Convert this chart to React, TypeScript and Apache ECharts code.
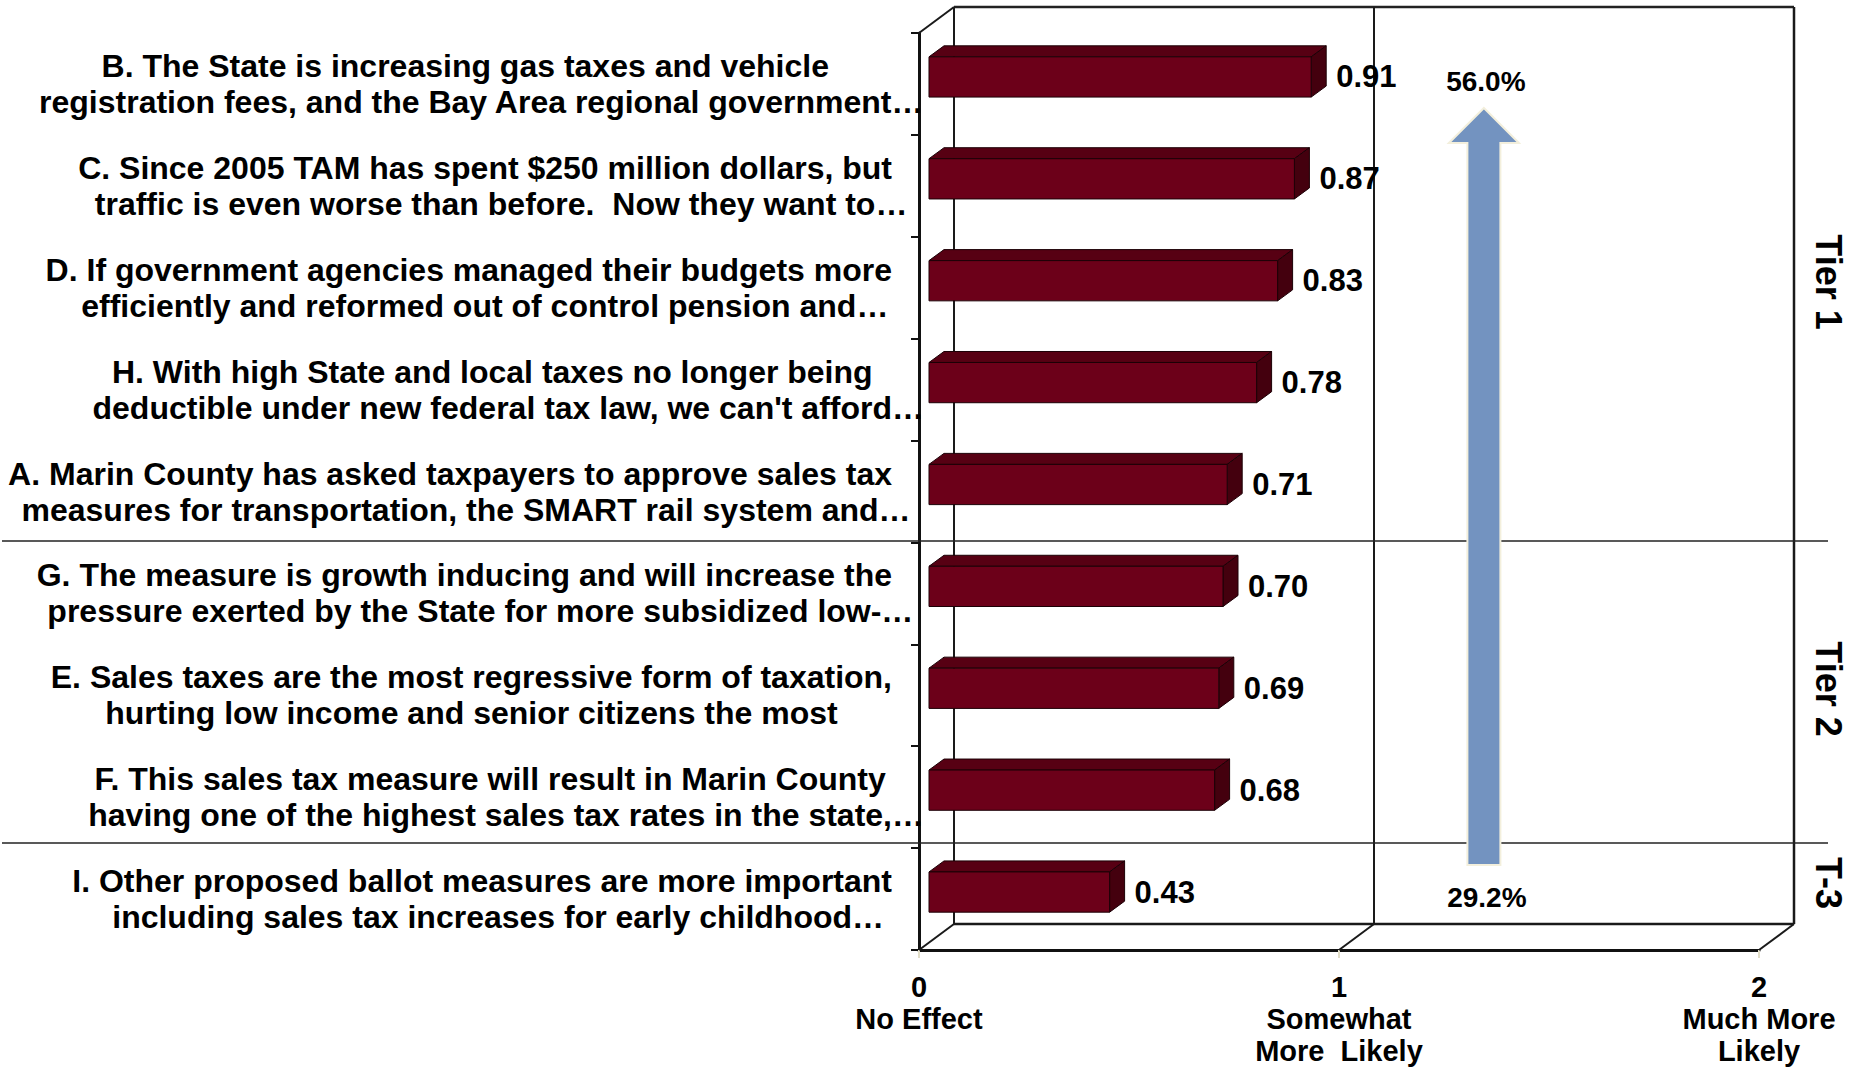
import React, { useEffect, useRef } from 'react';
import * as echarts from 'echarts';

// ---------- data ----------
const categories: string[] = [
  'B. The State is increasing gas taxes and vehicle\nregistration fees, and the Bay Area regional government…',
  'C. Since 2005 TAM has spent $250 million dollars, but\ntraffic is even worse than before.  Now they want to…',
  'D. If government agencies managed their budgets more\nefficiently and reformed out of control pension and…',
  "H. With high State and local taxes no longer being\ndeductible under new federal tax law, we can't afford…",
  'A. Marin County has asked taxpayers to approve sales tax\nmeasures for transportation, the SMART rail system and…',
  'G. The measure is growth inducing and will increase the\npressure exerted by the State for more subsidized low-…',
  'E. Sales taxes are the most regressive form of taxation,\nhurting low income and senior citizens the most',
  'F. This sales tax measure will result in Marin County\nhaving one of the highest sales tax rates in the state,…',
  'I. Other proposed ballot measures are more important\nincluding sales tax increases for early childhood…',
];
const values: number[] = [0.91, 0.87, 0.83, 0.78, 0.71, 0.7, 0.69, 0.68, 0.43];
const xTicks: number[] = [0, 1, 2];
const xTickLabels: string[] = ['No Effect', 'Somewhat\nMore  Likely', 'Much More\nLikely'];
const tierNames: string[] = ['Tier 1', 'Tier 2', 'T-3'];
const arrowTopLabel = '56.0%';
const arrowBottomLabel = '29.2%';

// ---------- layout / style ----------
const FONT = '"Liberation Sans", Arial, Helvetica, sans-serif';
const CAT_FONT = 32;
const GRID = { left: 919, top: 33, width: 840, height: 917 };
const DEPTH_X = 35;
const DEPTH_Y = -26;
const BAR_OFF_X = 10;
const BAR_OFF_Y = -7;
const BAR_DX = 15;
const BAR_DY = -11;
const TIER_LINE_Y = [541, 843];
const TIER_LABEL_Y = [282, 689, 883];
const ARROW_VALUE_X = 1.345;
const ARROW = { tip: 108, headBase: 143, bottom: 865, shaftHalf: 16.5, headHalf: 35 };

export default function App() {
  const ref = useRef<HTMLDivElement>(null);

  useEffect(() => {
    const chart = echarts.init(ref.current!, undefined, { renderer: 'svg' });

    const renderItem = (params: any, api: any) => {
      const v = api.value(0);
      const i = api.value(1);
      const base = api.coord([0, i]);
      const end = api.coord([v, i]);
      const band = api.size([0, 1])[1];
      const h = band * 0.395;
      const x0 = base[0] + BAR_OFF_X;
      const x1 = end[0] + BAR_OFF_X;
      const cy = base[1] + BAR_OFF_Y;
      const y0 = cy - h / 2;
      const y1 = cy + h / 2;
      const stroke = '#1c0006';
      return {
        type: 'group',
        children: [
          {
            type: 'polygon',
            shape: { points: [[x0, y0], [x1, y0], [x1 + BAR_DX, y0 + BAR_DY], [x0 + BAR_DX, y0 + BAR_DY]] },
            style: { fill: '#570013', stroke, lineWidth: 1 },
          },
          {
            type: 'polygon',
            shape: { points: [[x1, y0], [x1 + BAR_DX, y0 + BAR_DY], [x1 + BAR_DX, y1 + BAR_DY], [x1, y1]] },
            style: { fill: '#44000e', stroke, lineWidth: 1 },
          },
          {
            type: 'rect',
            shape: { x: x0, y: y0, width: x1 - x0, height: h },
            style: { fill: '#6c0019', stroke, lineWidth: 1 },
          },
          {
            type: 'text',
            style: {
              text: v.toFixed(2),
              x: x1 + 25,
              y: cy,
              align: 'left',
              verticalAlign: 'middle',
              fontSize: 31,
              fontWeight: 'bold',
              fontFamily: FONT,
              fill: '#000',
            },
          },
        ],
      };
    };

    const catStyle = { align: 'center', fontSize: CAT_FONT, fontWeight: 'bold', fontFamily: FONT, color: '#000', lineHeight: 36 };

    chart.setOption({
      animation: false,
      backgroundColor: '#ffffff',
      grid: { left: GRID.left, top: GRID.top, width: GRID.width, height: GRID.height, containLabel: false },
      xAxis: {
        type: 'value',
        min: 0,
        max: 2,
        interval: 1,
        splitLine: { show: false },
        axisLine: { show: true, lineStyle: { color: '#111', width: 3 } },
        axisTick: { show: true, length: 8, lineStyle: { color: '#e2dec9', width: 2 } },
        axisLabel: {
          margin: 21,
          showMinLabel: true,
          showMaxLabel: true,
          formatter: (val: number) => {
            const idx = xTicks.indexOf(val);
            const lines = (xTickLabels[idx] || '').split('\n').map((l) => `{t|${l}}`).join('\n');
            return `{n|${val}}\n${lines}`;
          },
          rich: {
            n: { fontSize: 29, fontWeight: 'bold', fontFamily: FONT, color: '#000', lineHeight: 32 },
            t: { fontSize: 29, fontWeight: 'bold', fontFamily: FONT, color: '#000', lineHeight: 32 },
          },
        },
      },
      yAxis: {
        type: 'category',
        inverse: true,
        data: categories,
        splitLine: { show: false },
        axisLine: { show: true, lineStyle: { color: '#111', width: 3 } },
        axisTick: { show: true, length: 8, lineStyle: { color: '#111', width: 2 } },
        axisLabel: {
          interval: 0,
          margin: 27,
          align: 'right',
          formatter: (s: string) =>
            s
              .split('\n')
              .map((l) => (l.endsWith('…') ? `{d|${l}}` : `{c|${l}}`))
              .join('\n'),
          rich: {
            c: catStyle,
            // trailing ellipsis hangs outside the centred line, as in the source
            d: { ...catStyle, padding: [0, -CAT_FONT, 0, 0] },
          },
        },
      },
      series: [
        {
          type: 'custom',
          renderItem,
          data: values.map((v, i) => [v, i]),
          encode: { x: 0, y: 1 },
          clip: false,
          z: 5,
        },
      ],
    });

    // frame decoration derived from the axes
    const px = (x: number, y: number) => chart.convertToPixel({ gridIndex: 0 }, [x, y]) as number[];
    const xA = px(0, 0)[0];
    const xB = px(1, 0)[0];
    const xC = px(2, 0)[0];
    const yTop = GRID.top;
    const yBot = GRID.top + GRID.height;
    const bT = yTop + DEPTH_Y;
    const bB = yBot + DEPTH_Y;
    const line = (x1: number, y1: number, x2: number, y2: number, w: number, color = '#1a1a1a', z = 1) => ({
      type: 'line',
      z,
      shape: { x1, y1, x2, y2 },
      style: { stroke: color, lineWidth: w },
      silent: true,
    });
    const ax = px(ARROW_VALUE_X, 0)[0];
    const elements: any[] = [
      // back wall
      line(xA + DEPTH_X, bT, xC + DEPTH_X, bT, 2.5, '#222'),
      line(xA + DEPTH_X, bT, xA + DEPTH_X, bB, 2),
      line(xC + DEPTH_X, bT, xC + DEPTH_X, bB, 2.5),
      line(xA + DEPTH_X, bB, xC + DEPTH_X, bB, 2.5),
      line(xB + DEPTH_X, bT, xB + DEPTH_X, bB, 2),
      // depth edges
      line(xA, yTop, xA + DEPTH_X, bT, 2),
      line(xA, yBot, xA + DEPTH_X, bB, 2),
      line(xB, yBot, xB + DEPTH_X, bB, 2),
      line(xC, yBot, xC + DEPTH_X, bB, 2),
      // tier separators
      ...TIER_LINE_Y.map((y) => line(2, y, 1828, y, 1.6, '#222', 2)),
      // arrow
      {
        type: 'polygon',
        z: 3,
        shape: {
          points: [
            [ax, ARROW.tip],
            [ax + ARROW.headHalf, ARROW.headBase],
            [ax + ARROW.shaftHalf, ARROW.headBase],
            [ax + ARROW.shaftHalf, ARROW.bottom],
            [ax - ARROW.shaftHalf, ARROW.bottom],
            [ax - ARROW.shaftHalf, ARROW.headBase],
            [ax - ARROW.headHalf, ARROW.headBase],
          ],
        },
        style: { fill: '#7393c0', stroke: '#f3efdc', lineWidth: 2 },
      },
      {
        type: 'text',
        z: 4,
        x: ax + 2,
        y: 81,
        style: { text: arrowTopLabel, align: 'center', verticalAlign: 'middle', fontSize: 28, fontWeight: 'bold', fontFamily: FONT, fill: '#000' },
      },
      {
        type: 'text',
        z: 4,
        x: ax + 3,
        y: 897,
        style: { text: arrowBottomLabel, align: 'center', verticalAlign: 'middle', fontSize: 28, fontWeight: 'bold', fontFamily: FONT, fill: '#000' },
      },
      ...tierNames.map((t, k) => ({
        type: 'text',
        z: 4,
        x: 1828,
        y: TIER_LABEL_Y[k],
        rotation: -Math.PI / 2,
        style: { text: t, align: 'center', verticalAlign: 'middle', fontSize: 36, fontWeight: 'bold', fontFamily: FONT, fill: '#000' },
      })),
    ];
    chart.setOption({ graphic: { elements } });

    return () => {
      chart.dispose();
    };
  }, []);

  return (
    <div
      ref={ref}
      style={{ position: 'fixed', left: 0, top: 0, width: 1855, height: 1069, background: '#fff' }}
    />
  );
}
